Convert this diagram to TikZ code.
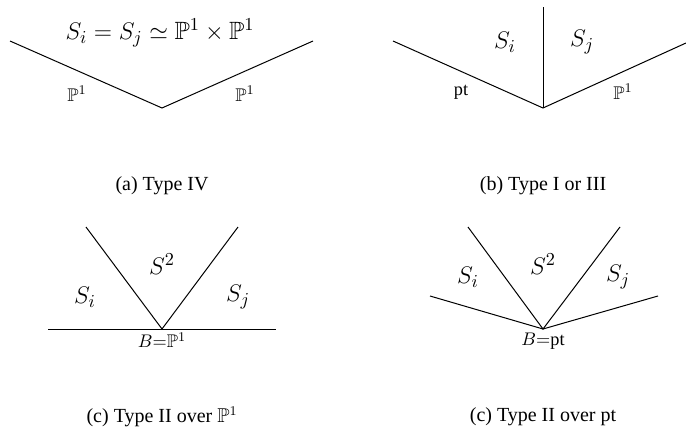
\documentclass[tikz,border=0pt]{standalone}
\usepackage{amsmath, amssymb}
\usepackage{fontspec}
\setmainfont{Liberation Serif}
\usetikzlibrary{positioning, calc}

\tikzset{
  wall/.style={line width=0.6pt},
  surf/.style={font=\fontsize{15}{17}\selectfont},
  curve/.style={font=\fontsize{11}{13}\selectfont},
  base/.style={font=\fontsize{11}{13}\selectfont, inner sep=2pt},
  capt/.style={font=\fontsize{12}{14}\selectfont}
}

\begin{document}
\begin{tikzpicture}[x=0.6pt, y=-0.6pt]
  \useasboundingbox (0,0) rectangle (686,443);

  % (a) Type IV
  \coordinate (a-l) at (10,41);
  \coordinate (a-v) at (162,108);
  \coordinate (a-r) at (313,41);
  \draw[wall] (a-l) -- (a-v) -- (a-r);
  \node[surf] (a-s) at (160,33) {$S_i = S_j \simeq \mathbb{P}^1 \times \mathbb{P}^1$};
  \node[curve] (a-c1) at (77,94) {$\mathbb{P}^1$};
  \node[curve] (a-c2) at (245,94) {$\mathbb{P}^1$};
  \node[capt] (a-cap) at (162,186) {(a) Type IV};

  % (b) Type I or III
  \coordinate (b-l) at (393,41);
  \coordinate (b-v) at (543,108);
  \coordinate (b-r) at (686,43);
  \coordinate (b-t) at (543,7);
  \draw[wall] (b-l) -- (b-v) -- (b-r);
  \draw[wall] (b-v) -- (b-t);
  \node[surf] (b-si) at (505,42) {$S_i$};
  \node[surf] (b-sj) at (582,42) {$S_j$};
  \node[curve] (b-pt) at (461,92) {pt};
  \node[curve] (b-c) at (623,92) {$\mathbb{P}^1$};
  \node[capt] (b-cap) at (543,186) {(b) Type I or III};

  % (c) Type II over P^1
  \coordinate (c-l) at (48,329);
  \coordinate (c-r) at (276,329);
  \coordinate (c-v) at (162,329);
  \coordinate (c-tl) at (86,227);
  \coordinate (c-tr) at (238,227);
  \draw[wall] (c-l) -- (c-r);
  \draw[wall] (c-tl) -- (c-v) -- (c-tr);
  \node[surf] (c-s2) at (162,264) {$S^2$};
  \node[surf] (c-si) at (85,297) {$S_i$};
  \node[surf] (c-sj) at (238,297) {$S_j$};
  \node[base, below=0pt of c-v] (c-b) {$B{=}\mathbb{P}^1$};
  \node[capt] (c-cap) at (162,417) {(c) Type II over $\mathbb{P}^1$};

  % (c) Type II over pt
  \coordinate (d-l) at (430,296);
  \coordinate (d-r) at (658,296);
  \coordinate (d-v) at (543,329);
  \coordinate (d-tl) at (468,227);
  \coordinate (d-tr) at (620,227);
  \draw[wall] (d-l) -- (d-v) -- (d-r);
  \draw[wall] (d-tl) -- (d-v) -- (d-tr);
  \node[surf] (d-s2) at (543,264) {$S^2$};
  \node[surf] (d-si) at (468,277) {$S_i$};
  \node[surf] (d-sj) at (618,277) {$S_j$};
  \node[base, below=0pt of d-v] (d-b) {$B{=}$pt};
  \node[capt] (d-cap) at (543,417) {(c) Type II over pt};
\end{tikzpicture}
\end{document}
